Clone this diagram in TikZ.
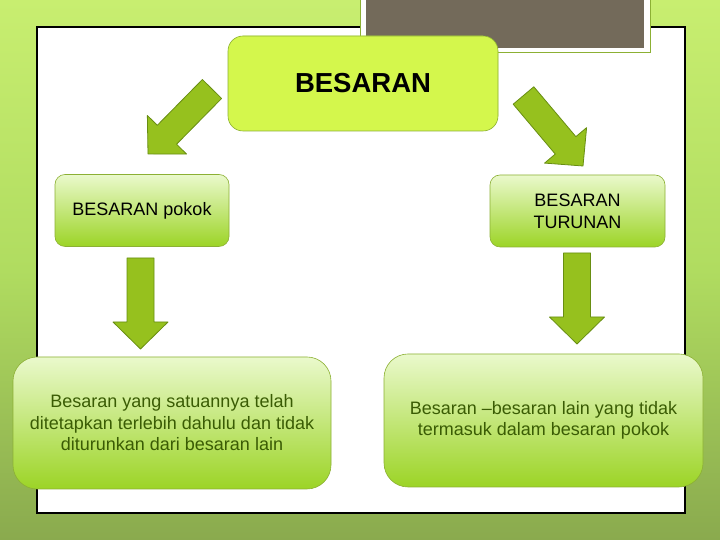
\documentclass[tikz,border=0pt]{standalone}
\usepackage{fontspec}
\setmainfont{Liberation Sans}
\usetikzlibrary{calc,shadings}
\definecolor{bgtop}{RGB}{200,238,112}
\definecolor{bgmid}{RGB}{176,220,96}
\definecolor{bgbot}{RGB}{138,170,78}
\definecolor{limebox}{RGB}{212,247,76}
\definecolor{boxline}{RGB}{140,176,52}
\definecolor{lighttop}{RGB}{234,249,204}
\definecolor{greenbot}{RGB}{156,212,38}
\definecolor{arrowfill}{RGB}{150,193,30}
\definecolor{arrowline}{RGB}{104,142,18}
\definecolor{darkbox}{RGB}{115,106,90}
\definecolor{textgreen}{RGB}{58,92,4}
\newcommand{\fatarrow}[2]{%
  \coordinate (hb) at ($(#2)!27pt!(#1)$);
  \filldraw[arrowstyle] ($(#1)!13.5pt!90:(#2)$) -- ($(hb)!13.5pt!90:(#2)$)
    -- ($(hb)!27.5pt!90:(#2)$) -- (#2) -- ($(hb)!27.5pt!-90:(#2)$)
    -- ($(hb)!13.5pt!-90:(#2)$) -- ($(#1)!13.5pt!-90:(#2)$) -- cycle;
}

\begin{document}
\begin{tikzpicture}[x=1pt,y=1pt,
  arrowstyle/.style={fill=arrowfill,draw=arrowline,line width=0.8pt,line join=round},
  smallbox/.style={draw=boxline,line width=0.6pt,rounded corners=10pt,top color=lighttop,
    bottom color=greenbot,align=center,inner sep=0pt,font=\fontsize{18}{22}\selectfont},
  bigbox/.style={smallbox,rounded corners=24pt,text=textgreen,font=\fontsize{18}{21.5}\selectfont}]
  \useasboundingbox (0,0) rectangle (720,540);

  % green background and white panel
  \shade[top color=bgtop,bottom color=bgbot,middle color=bgmid] (0,0) rectangle (720,540);
  \draw[black,line width=1.5pt,fill=white] (37,27) rectangle (685,513);

  % dark box at the top
  \draw[boxline,line width=1pt,fill=white] (360,487) rectangle (650,542);
  \fill[darkbox] (366,492) rectangle (644,542);

  % boxes
  \node[smallbox,fill=limebox,top color=limebox,bottom color=limebox,rounded corners=15pt,
    minimum width=270,minimum height=95,font=\fontsize{27.5}{30}\selectfont\bfseries]
    (besaran) at (363,456.5) {BESARAN};
  \node[smallbox,minimum width=174,minimum height=72] (pokok) at (142,329.5) {BESARAN pokok};
  \node[smallbox,minimum width=175,minimum height=72] (turunan) at (577.5,329) {BESARAN\\TURUNAN};
  \node[bigbox,minimum width=318,minimum height=132] (defpokok) at (172,117)
    {Besaran yang satuannya telah\\ditetapkan terlebih dahulu dan tidak\\diturunkan dari besaran lain};
  \node[bigbox,minimum width=319,minimum height=133] (defturunan) at (543.5,119.5)
    {Besaran --besaran lain yang tidak\\termasuk dalam besaran pokok};

  % block arrows
  \coordinate (aL1) at (212,451);   \coordinate (aL2) at (148,386);
  \coordinate (aR1) at (523.5,444.5); \coordinate (aR2) at (583,374);
  \coordinate (aP1) at (140.5,282); \coordinate (aP2) at (140.5,191);
  \coordinate (aT1) at (577,287);   \coordinate (aT2) at (577,196);
  \fatarrow{aL1}{aL2}
  \fatarrow{aR1}{aR2}
  \fatarrow{aP1}{aP2}
  \fatarrow{aT1}{aT2}
\end{tikzpicture}
\end{document}
